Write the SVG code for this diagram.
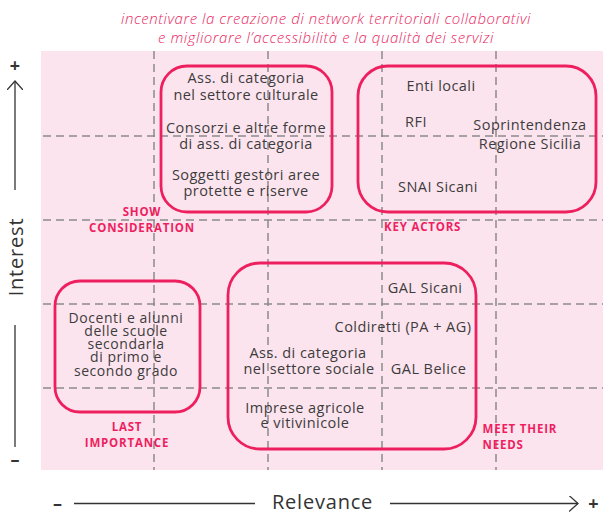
<svg xmlns="http://www.w3.org/2000/svg" width="603" height="513" viewBox="0 0 603 513">
<style>
.bg{fill:#fce4ef}
.grid line{stroke:#8a8a8a;stroke-width:1.5;stroke-dasharray:8 5;fill:none}
.box{fill:none;stroke:#ee1f5f;stroke-width:2.8}
.t{font-family:"Open Sans","Liberation Sans",sans-serif;font-size:14.5px;letter-spacing:0.45px;fill:#3c3c3c;text-anchor:middle}
.tt{font-size:14px;letter-spacing:0.55px}
.lab{font-family:"Open Sans","Liberation Sans",sans-serif;font-size:11.5px;letter-spacing:0.8px;font-weight:700;fill:#ee1f5f}
.title{font-family:"Open Sans","Liberation Sans",sans-serif;font-size:15px;letter-spacing:0.55px;font-style:italic;font-weight:300;fill:#e8285f;text-anchor:middle}
.ax{stroke:#333;stroke-width:1.3;fill:none}
.axt{font-family:"Open Sans","Liberation Sans",sans-serif;font-size:20px;letter-spacing:0.8px;fill:#333;text-anchor:middle}
.pm{font-family:"Open Sans","Liberation Sans",sans-serif;font-size:18px;font-weight:700;fill:#333;text-anchor:middle}
</style>
<defs>
<marker id="arr" viewBox="0 0 10 16" refX="9" refY="8" markerWidth="10" markerHeight="16" markerUnits="userSpaceOnUse" orient="auto">
<path d="M0,0 L9,8 L0,16" fill="none" stroke="#333" stroke-width="1.3"/>
</marker>
</defs>
<text class="title" x="326" y="24">incentivare la creazione di network territoriali collaborativi</text>
<text class="title" x="326" y="42.5">e migliorare l’accessibilità e la qualità dei servizi</text>
<rect class="bg" x="41" y="51" width="562" height="419"/>
<g class="grid">
<line x1="154" y1="51" x2="154" y2="470"/>
<line x1="268" y1="51" x2="268" y2="470"/>
<line x1="382" y1="51" x2="382" y2="470"/>
<line x1="496" y1="51" x2="496" y2="470"/>
<line x1="43" y1="136" x2="603" y2="136"/>
<line x1="43" y1="220" x2="603" y2="220"/>
<line x1="43" y1="304" x2="603" y2="304"/>
<line x1="43" y1="388" x2="603" y2="388"/>
</g>
<g id="quadrant-labels">
<text class="lab" x="142" y="216" text-anchor="middle">SHOW</text>
<text class="lab" x="142" y="231.5" text-anchor="middle">CONSIDERATION</text>
<text class="lab" x="384" y="230.5">KEY ACTORS</text>
<text class="lab" x="127" y="431" text-anchor="middle">LAST</text>
<text class="lab" x="127" y="446.5" text-anchor="middle">IMPORTANCE</text>
<text class="lab" x="482.5" y="433">MEET THEIR</text>
<text class="lab" x="482.5" y="448.5">NEEDS</text>
</g>
<g id="node-cultural">
<rect class="box" x="161" y="66" width="171" height="146" rx="26"/>
<text class="t" x="246" y="83">Ass. di categoria</text>
<text class="t" x="246" y="99.5">nel settore culturale</text>
<text class="t" x="246" y="133">Consorzi e altre forme</text>
<text class="t" x="246" y="149">di ass. di categoria</text>
<text class="t" x="246" y="180">Soggetti gestori aree</text>
<text class="t" x="246" y="196">protette e riserve</text>
</g>
<g id="node-key">
<rect class="box" x="358" y="66" width="238" height="146" rx="30"/>
<text class="t" x="441" y="91">Enti locali</text>
<text class="t" x="416" y="127">RFI</text>
<text class="t" x="530" y="130">Soprintendenza</text>
<text class="t" x="530" y="149">Regione Sicilia</text>
<text class="t" x="438" y="192">SNAI Sicani</text>
</g>
<g id="node-schools">
<rect class="box" x="55" y="281" width="145" height="131" rx="25"/>
<text class="t tt" x="126" y="322.5">Docenti e alunni</text>
<text class="t tt" x="126" y="335.8">delle scuole</text>
<text class="t tt" x="126" y="349.1">secondaria</text>
<text class="t tt" x="126" y="362.4">di primo e</text>
<text class="t tt" x="126" y="375.7">secondo grado</text>
</g>
<g id="node-needs">
<rect class="box" x="228" y="263" width="248" height="186" rx="32"/>
<text class="t" x="425" y="293">GAL Sicani</text>
<text class="t" x="403" y="332">Coldiretti (PA + AG)</text>
<text class="t" x="308" y="358">Ass. di categoria</text>
<text class="t" x="309" y="374">nel settore sociale</text>
<text class="t" x="428.5" y="374">GAL Belice</text>
<text class="t" x="305" y="413">Imprese agricole</text>
<text class="t" x="305" y="428">e vitivinicole</text>
</g>
<g id="connectors">
<line class="ax" x1="15" y1="190" x2="15" y2="81" marker-end="url(#arr)"/>
<line class="ax" x1="15" y1="325" x2="15" y2="447"/>
<line class="ax" x1="74" y1="503.5" x2="255" y2="503.5"/>
<line class="ax" x1="390" y1="503.5" x2="578" y2="503.5" marker-end="url(#arr)"/>
</g>
<g id="axis-labels">
<text class="pm" x="15" y="72">+</text>
<text class="pm" x="15" y="466">–</text>
<text class="axt" transform="translate(22.5,257) rotate(-90)">Interest</text>
<text class="axt" x="322.5" y="508.5">Relevance</text>
<text class="pm" x="57.5" y="509.5">–</text>
<text class="pm" x="593.5" y="509.5">+</text>
</g>
</svg>
